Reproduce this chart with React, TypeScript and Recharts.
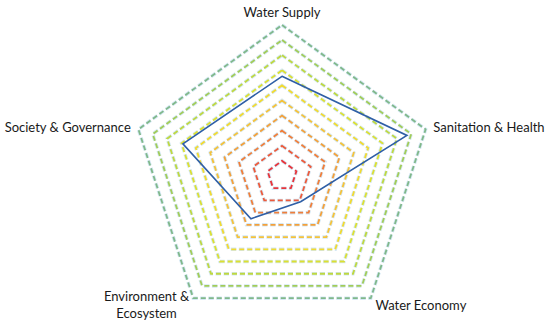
import { PolarAngleAxis, PolarGrid, PolarRadiusAxis, Radar, RadarChart } from "recharts";

const categories = [
  "Water Supply",
  "Sanitation & Health",
  "Water Economy",
  "Environment & Ecosystem",
  "Society & Governance",
];
const scores = [6.6, 8.7, 2.1, 3.5, 6.9];

const maxScore = 10;
const levels = [1, 2, 3, 4, 5, 6, 7, 8, 9, 10];
const levelColors = [
  "#e8343a",
  "#ed5a3b",
  "#f07e3a",
  "#f4a03a",
  "#f5c23a",
  "#f2da30",
  "#dce032",
  "#bfd840",
  "#a2cc58",
  "#80b88a",
];

const data = categories.map((name, i) => ({ name, value: scores[i] }));

const CX = 282;
const CY = 176;
const R = 151;

function Tick(props: any) {
  const { x, y, payload, textAnchor, index } = props;
  const style = { fontFamily: "Lato, 'Open Sans', sans-serif", fontSize: 13, fill: "#1a1a1a" };
  if (index === 3) {
    const words = payload.value.split(" ");
    const line1 = words.slice(0, 2).join(" ");
    const line2 = words.slice(2).join(" ");
    return (
      <text x={x - 42} y={y} textAnchor="middle" style={style}>
        <tspan x={x - 42} dy={-4}>{line1}</tspan>
        <tspan x={x - 42} dy={17}>{line2}</tspan>
      </text>
    );
  }
  const dy = index === 0 ? 0 : 5;
  return (
    <text x={x} y={y} dy={dy} textAnchor={textAnchor} style={style}>
      {payload.value}
    </text>
  );
}

export default function App() {
  return (
    <div style={{ position: "absolute", left: 0, top: 0, width: 550, height: 325, background: "#fff" }}>
      <RadarChart width={550} height={325} data={data} cx={CX} cy={CY} outerRadius={R}>
        {levels.map((lv) => (
          <PolarGrid
            key={"h" + lv}
            gridType="polygon"
            radialLines={false}
            polarRadius={[(R * lv) / maxScore]}
            stroke="#d5e8f4"
            strokeWidth={3.5}
            strokeDasharray="5.5 2.5"
          />
        ))}
        {levels.map((lv, i) => (
          <PolarGrid
            key={"g" + lv}
            gridType="polygon"
            radialLines={false}
            polarRadius={[(R * lv) / maxScore]}
            stroke={levelColors[i]}
            strokeWidth={1.8}
            strokeDasharray="5 3"
          />
        ))}
        <PolarAngleAxis dataKey="name" axisLine={false} tickLine={false} tick={<Tick />} />
        <PolarRadiusAxis domain={[0, maxScore]} tick={false} axisLine={false} />
        <Radar
          dataKey="value"
          stroke="#2f5fa6"
          strokeWidth={1.6}
          fill="none"
          fillOpacity={0}
          dot={false}
          isAnimationActive={false}
        />
      </RadarChart>
    </div>
  );
}
